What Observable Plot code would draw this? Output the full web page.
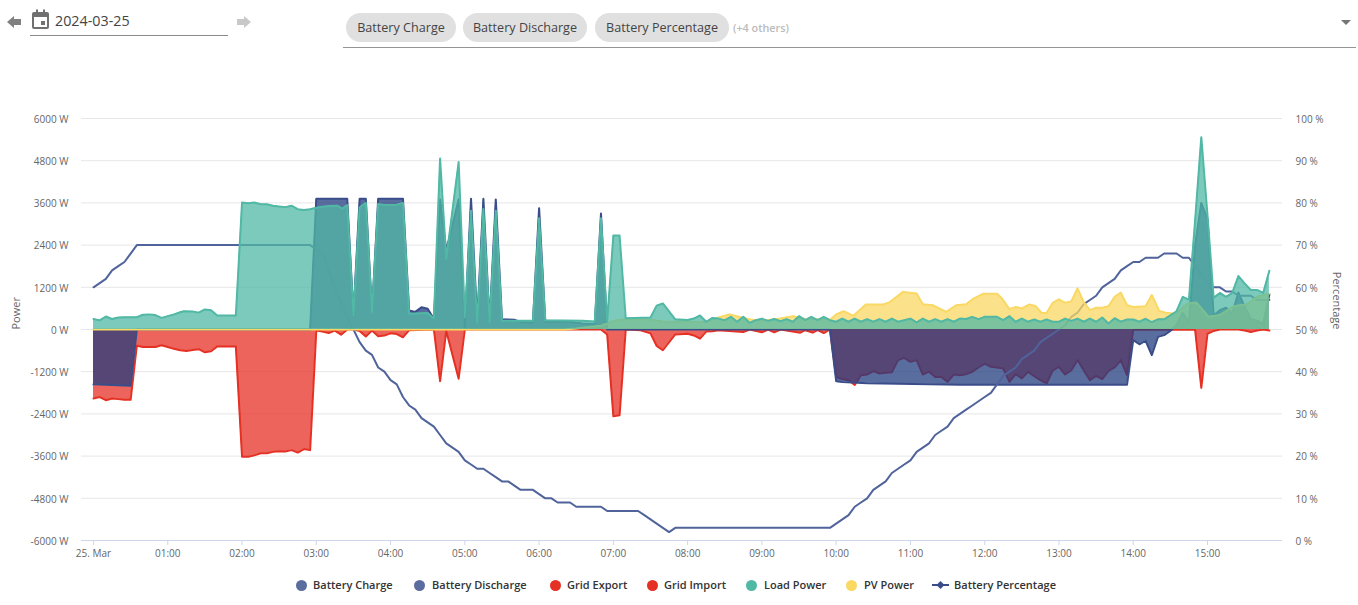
<!DOCTYPE html>
<html><head><meta charset="utf-8">
<script src="https://cdn.jsdelivr.net/npm/d3@7"></script>
<script src="https://cdn.jsdelivr.net/npm/@observablehq/plot@0.6"></script>
<style>
html,body{margin:0;padding:0;background:#fff;font-family:"Open Sans",sans-serif;overflow:hidden}
#page{position:relative;width:1358px;height:605px}
#head{position:absolute;left:0;top:0;width:1358px;height:60px}
#chart{position:absolute;left:0;top:60px}
#date{position:absolute;left:55px;top:11px;font-size:14.3px;color:#444;line-height:20px}
#dateline{position:absolute;left:30px;top:35px;width:198px;height:1px;background:#8a8a8a}
#selline{position:absolute;left:343px;top:47px;width:1013px;height:1px;background:#949494}
.chip{position:absolute;top:13px;height:29px;border-radius:15px;background:#e0e0e0;font-size:12.6px;color:#444;line-height:29px;text-align:center}
#others{position:absolute;left:733px;top:20px;font-size:10.8px;font-weight:600;color:#bbb;line-height:16px}
#head svg{position:absolute}
#legend{position:absolute;left:0;top:577px;width:1358px;height:16px}
.li{position:absolute;top:0;font-size:11px;font-weight:600;color:#333;line-height:16px;white-space:nowrap}
.dot{position:absolute;top:2.5px;width:11px;height:11px;border-radius:50%}
</style></head>
<body><div id="page">
<div id="head">
<svg style="left:6px;top:14px" width="16" height="16" viewBox="0 0 16 16"><path d="M1 8 L8 2 V5 H15 V11 H8 V14 Z" fill="#808080"/></svg>
<svg style="left:31px;top:9px" width="19" height="21" viewBox="0 0 19 21"><path d="M3 3h2V0.5h2V3h5V0.5h2V3h2a2 2 0 0 1 2 2v13a2 2 0 0 1-2 2H3a2 2 0 0 1-2-2V5a2 2 0 0 1 2-2zm0 5v10h13V8zm7 4h4v4h-4z" fill="#707070" fill-rule="evenodd"/></svg>
<div id="date">2024-03-25</div><div id="dateline"></div>
<svg style="left:236px;top:14px" width="16" height="16" viewBox="0 0 16 16"><path d="M15 8 L8 2 V5 H1 V11 H8 V14 Z" fill="#c8c8c8"/></svg>
<div class="chip" style="left:346px;width:110px">Battery Charge</div>
<div class="chip" style="left:463px;width:124px">Battery Discharge</div>
<div class="chip" style="left:595px;width:134px">Battery Percentage</div>
<div id="others">(+4 others)</div>
<svg style="left:1341px;top:20px" width="10" height="6" viewBox="0 0 10 6"><path d="M0 0H10L5 5Z" fill="#757575"/></svg>
<div id="selline"></div>
</div>
<div id="chart"></div>
<div id="legend"></div>
</div>
<script>
// Values: [minutes after midnight, value]
const batteryPower = [[0,-1560],[30,-1600],[35,0],[175,0],[180,3720],[205,3720],[210,400],[215,3720],[220,3720],[225,490],[230,3720],[250,3720],[255,540],[260,500],[265,630],[270,590],[275,300],[280,3700],[285,2240],[295,3700],[300,60],[305,3720],[310,250],[315,3720],[320,200],[325,3700],[330,290],[340,280],[345,210],[355,200],[360,3450],[365,220],[375,230],[385,220],[395,170],[405,150],[410,3300],[415,0],[595,0],[600,-1470],[605,-1490],[625,-1530],[700,-1570],[835,-1570],[840,-300],[845,-420],[850,-320],[855,-730],[860,-210],[865,-160],[870,-40],[875,130],[880,470],[885,200],[890,2400],[895,3600],[900,3130],[905,400],[910,550],[915,620],[920,450],[925,1050],[930,650],[935,300],[940,250],[945,150],[950,1000]];
const gridPower = [[0,-1960],[5,-1920],[10,-2010],[15,-1960],[20,-1980],[25,-2000],[30,-2000],[35,-460],[40,-500],[50,-500],[55,-450],[60,-500],[65,-550],[70,-590],[75,-610],[80,-580],[85,-560],[90,-650],[95,-620],[100,-480],[115,-480],[120,-3620],[125,-3620],[130,-3580],[135,-3520],[140,-3520],[145,-3480],[150,-3460],[155,-3470],[160,-3430],[165,-3500],[170,-3400],[175,-3430],[180,-30],[185,-60],[190,-100],[195,-30],[200,-150],[205,0],[210,0],[215,-40],[220,-200],[225,-30],[230,-190],[235,-170],[240,-110],[245,-130],[250,-220],[255,-20],[275,0],[280,-1470],[285,-40],[295,-1400],[300,0],[405,0],[410,0],[415,-140],[420,-2470],[425,-2440],[430,0],[442,-20],[450,-110],[455,-470],[460,-590],[470,-140],[480,-120],[485,-170],[490,-260],[495,-60],[500,-50],[505,-20],[525,-70],[530,0],[540,-80],[545,0],[550,-80],[555,0],[571,-90],[575,-20],[581,-90],[585,-20],[590,-100],[595,0],[600,-1350],[605,-1410],[610,-1440],[615,-1580],[620,-1300],[625,-1280],[630,-1185],[635,-1250],[640,-1230],[645,-1215],[650,-870],[655,-805],[660,-920],[665,-870],[670,-1280],[675,-1200],[680,-1350],[685,-1350],[690,-1490],[695,-1280],[700,-1300],[705,-1270],[710,-1200],[715,-1080],[720,-970],[725,-1060],[730,-1080],[735,-1110],[740,-1490],[745,-1270],[750,-1390],[755,-1200],[760,-1330],[765,-1440],[770,-1535],[775,-1160],[780,-1060],[785,-1280],[790,-1160],[795,-870],[800,-1160],[805,-1440],[810,-1320],[815,-1410],[820,-1180],[825,-1080],[830,-870],[835,-1300],[840,0],[890,-10],[895,-1660],[900,-120],[905,-40],[910,0],[925,0],[930,-30],[935,-70],[940,-30],[945,0],[950,-30]];
const loadPower = [[0,300],[5,260],[10,370],[15,300],[20,340],[25,350],[35,350],[40,420],[45,430],[50,410],[55,330],[60,380],[65,430],[70,490],[73,520],[80,510],[85,480],[90,570],[95,550],[100,400],[115,400],[120,3610],[125,3590],[130,3610],[135,3560],[140,3560],[145,3520],[150,3500],[155,3480],[160,3520],[165,3420],[170,3400],[175,3420],[180,3460],[185,3490],[190,3510],[197,3520],[201,3440],[205,3540],[210,400],[215,3470],[220,3600],[225,490],[230,3570],[235,3540],[245,3550],[250,3600],[255,450],[270,470],[275,310],[280,4860],[285,2010],[295,4760],[300,350],[305,3380],[310,200],[315,3430],[320,200],[325,3380],[330,250],[355,250],[360,3160],[365,260],[395,250],[405,230],[410,3160],[415,225],[420,2670],[425,2670],[430,320],[450,340],[455,680],[460,740],[470,290],[480,270],[485,310],[490,400],[495,220],[500,330],[505,310],[510,265],[515,360],[520,220],[525,360],[530,190],[535,265],[540,310],[545,245],[550,300],[555,235],[560,295],[565,220],[570,380],[575,265],[580,360],[585,265],[590,360],[595,265],[600,220],[605,310],[610,220],[615,310],[620,220],[625,295],[630,220],[635,295],[640,220],[645,310],[650,220],[655,265],[660,310],[665,200],[670,310],[675,220],[680,295],[685,220],[690,295],[695,220],[700,310],[705,300],[710,360],[715,295],[720,360],[725,360],[730,360],[735,265],[740,380],[745,220],[750,310],[755,220],[760,285],[765,220],[770,285],[775,220],[780,220],[785,310],[790,245],[795,310],[800,220],[805,310],[810,220],[815,340],[820,170],[825,320],[830,225],[835,285],[840,285],[845,220],[850,305],[855,210],[860,290],[865,290],[870,400],[875,520],[880,930],[885,850],[890,3100],[895,5470],[900,3250],[905,900],[910,1040],[915,930],[920,1040],[925,1520],[930,1310],[935,1125],[940,1125],[945,1040],[950,1670]];
const pvPower = [[0,0],[380,0],[390,30],[400,70],[410,110],[415,170],[420,240],[425,280],[440,290],[450,280],[460,230],[495,210],[500,260],[505,340],[514,430],[525,330],[534,265],[544,265],[555,310],[565,380],[575,300],[590,290],[595,270],[600,430],[606,520],[614,390],[624,710],[638,710],[643,770],[654,1070],[665,1025],[670,720],[678,690],[689,500],[697,690],[705,720],[711,880],[719,1020],[730,1020],[734,880],[740,580],[745,640],[750,600],[756,710],[761,670],[766,470],[770,470],[775,760],[780,860],[785,760],[790,800],[795,1170],[800,780],[805,550],[810,620],[815,620],[820,660],[825,930],[830,1050],[835,690],[840,640],[850,660],[855,980],[861,530],[866,480],[873,450],[878,560],[884,740],[891,770],[901,360],[910,410],[921,660],[932,720],[940,930],[950,1020]];
const batteryPercentage = [[0,60],[5,61],[10,62],[15,64],[20,65],[25,66],[30,68],[35,70],[175,70],[180,69],[185,68],[190,64],[195,60],[200,56],[205,53],[210,50],[215,47],[220,45],[225,44],[230,41],[235,40],[240,38],[245,37],[250,34],[255,32],[260,31],[265,29],[270,28],[275,27],[280,25],[285,23],[290,22],[295,21],[300,19],[305,18],[310,17],[315,17],[320,16],[325,15],[330,14],[335,14],[340,13],[345,12],[355,12],[360,11],[365,10],[370,10],[375,9],[385,9],[390,8],[410,8],[415,7],[440,7],[445,6],[450,5],[455,4],[460,3],[465,2],[470,3],[595,3],[600,4],[605,5],[610,6],[615,8],[620,9],[625,10],[630,12],[635,13],[640,14],[645,16],[650,17],[655,18],[660,19],[665,21],[670,22],[675,23],[680,25],[685,26],[690,27],[695,29],[700,30],[705,31],[710,32],[715,33],[720,34],[725,35],[730,37],[735,39],[740,40],[745,41],[750,43],[755,44],[760,45],[765,47],[770,48],[775,49],[780,50],[785,51],[790,53],[795,54],[800,56],[805,57],[810,58],[815,60],[820,61],[825,62],[830,64],[835,65],[840,66],[845,66],[850,67],[860,67],[865,68],[875,68],[880,67],[885,67],[890,65],[895,63],[900,61],[905,60],[910,60],[915,59],[920,59],[925,58],[935,58],[940,57],[950,57]];
const powerTicks = [-6000,-4800,-3600,-2400,-1200,0,1200,2400,3600,4800,6000];
const percentTicks = [0,10,20,30,40,50,60,70,80,90,100];
const timeTicks = [0,60,120,180,240,300,360,420,480,540,600,660,720,780,840,900];
const timeLabels = ["25. Mar","01:00","02:00","03:00","04:00","05:00","06:00","07:00","08:00","09:00","10:00","11:00","12:00","13:00","14:00","15:00"];
const legendItems = [
  ["Battery Charge",296,313,"#5b6c9f"],["Battery Discharge",414,432,"#5b6c9f"],
  ["Grid Export",550,567,"#e53024"],["Grid Import",647,664,"#e53024"],
  ["Load Power",746,764,"#50b8a4"],["PV Power",846,864,"#f9d863"]];
const colors = {battery:"#233c7f", batteryLine:"#3a4d8a", grid:"#e53024", load:"#50b8a4", pv:"#f9d863", pct:"#50639b"};

const X = d => d[0], Y = d => d[1];
const pctToPower = p => (p - 50) * 120;
const series = (data, fill, stroke) => [
  Plot.areaY(data, {x:X, y:Y, fill, fillOpacity:0.75}),
  Plot.lineY(data, {x:X, y:Y, stroke, strokeWidth:2, strokeLinejoin:"round"})
];
const chart = Plot.plot({
  width:1358, height:510,
  marginLeft:81, marginRight:76, marginTop:58, marginBottom:30,
  style:{fontFamily:"'Open Sans',sans-serif", fontSize:"10px", background:"transparent", overflow:"visible"},
  x:{domain:[-9.7,960.6], axis:null},
  y:{domain:[-6000,6000], axis:null},
  marks:[
    Plot.gridY(powerTicks, {stroke:"#e6e6e6", strokeOpacity:1}),
    Plot.ruleY([-6000], {stroke:"#ccd6eb"}),
    Plot.axisY(powerTicks, {anchor:"left", tickSize:0, tickPadding:13, dy:1, label:null, fill:"#666", tickFormat:d=>d+" W"}),
    Plot.axisY(powerTicks, {anchor:"right", tickSize:0, tickPadding:13, dy:1, label:null, fill:"#666", tickFormat:d=>percentTicks[powerTicks.indexOf(d)]+" %"}),
    Plot.axisX(timeTicks, {anchor:"bottom", tickSize:5, tickPadding:4, label:null, stroke:"#ccd6eb", fill:"#666", tickFormat:d=>timeLabels[timeTicks.indexOf(d)]}),
    Plot.text(["Power"], {frameAnchor:"left", dx:-65, rotate:-90, fill:"#666", fontSize:11}),
    Plot.text(["Percentage"], {frameAnchor:"right", dx:54, rotate:90, fill:"#666", fontSize:11}),
    ...series(gridPower, colors.grid, colors.grid),
    ...series(batteryPower, colors.battery, colors.batteryLine),
    Plot.lineY(batteryPercentage, {x:X, y:d=>pctToPower(d[1]), stroke:colors.pct, strokeWidth:2, strokeLinejoin:"round"}),
    ...series(pvPower, colors.pv, colors.pv),
    ...series(loadPower, colors.load, colors.load)
  ]
});
document.getElementById("chart").appendChild(chart);

const legend = document.getElementById("legend");
for (const [name, dotX, textX, color] of legendItems) {
  legend.insertAdjacentHTML("beforeend",
    `<div class="dot" style="left:${dotX}px;background:${color}"></div><div class="li" style="left:${textX}px">${name}</div>`);
}
legend.insertAdjacentHTML("beforeend",
  `<svg style="position:absolute;left:932px;top:2px" width="17" height="12" viewBox="0 0 17 12"><path d="M0 6H17" stroke="#3a4d8a" stroke-width="2"/><path d="M8.5 2L12.5 6L8.5 10L4.5 6Z" fill="#3a4d8a"/></svg><div class="li" style="left:954px">Battery Percentage</div>`);
</script>
</body></html>
